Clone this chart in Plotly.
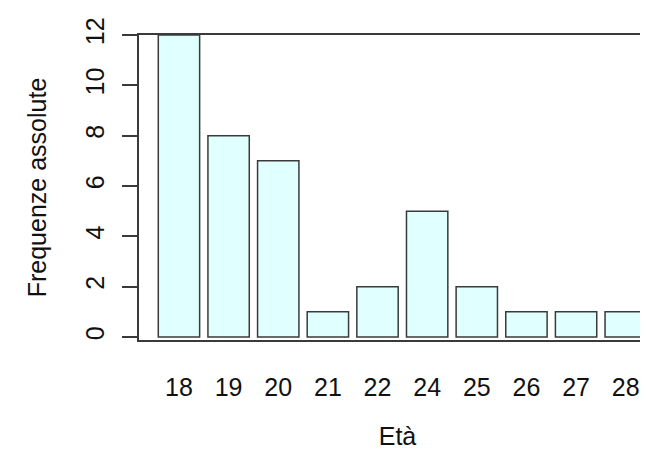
import plotly.graph_objects as go

eta = ["18", "19", "20", "21", "22", "24", "25", "26", "27", "28"]
frequenze = [12, 8, 7, 1, 2, 5, 2, 1, 1, 1]
y_ticks = [0, 2, 4, 6, 8, 10, 12]

FONT = "Liberation Sans, Arial, Helvetica, sans-serif"
LINE = "#3a3a3a"

fig = go.Figure(
    go.Bar(
        x=list(range(len(eta))),
        y=frequenze,
        marker=dict(color="#E0FFFF", line=dict(color=LINE, width=1.5)),
        width=0.833,
        hoverinfo="x+y",
    )
)

fig.update_layout(
    width=648,
    height=450,
    margin=dict(l=131, r=0, t=27, b=118),
    paper_bgcolor="white",
    plot_bgcolor="white",
    font=dict(family=FONT, size=25, color="#111"),
    showlegend=False,
    xaxis=dict(
        range=[-0.805, 9.61],
        tickmode="array",
        tickvals=list(range(len(eta))),
        ticktext=eta,
        ticks="",
        showgrid=False,
        zeroline=False,
        showline=True,
        mirror=True,
        linecolor=LINE,
        linewidth=1.5,
        ticklabelstandoff=24,
        tickfont=dict(size=25),
        title=dict(text="Età", standoff=28, font=dict(size=25)),
        automargin=False,
    ),
    yaxis=dict(
        range=[-0.12, 12],
        tickmode="array",
        tickvals=y_ticks,
        ticktext=[str(v) for v in y_ticks],
        ticks="outside",
        ticklen=15,
        tickwidth=1.5,
        tickcolor=LINE,
        tickangle=-90,
        showgrid=False,
        zeroline=False,
        showline=True,
        mirror=False,
        linecolor=LINE,
        linewidth=1.5,
        ticklabelstandoff=8,
        tickfont=dict(size=25),
        title=dict(text="Frequenze assolute", standoff=28, font=dict(size=25)),
        automargin=False,
    ),
)

fig.write_html("out.html")
